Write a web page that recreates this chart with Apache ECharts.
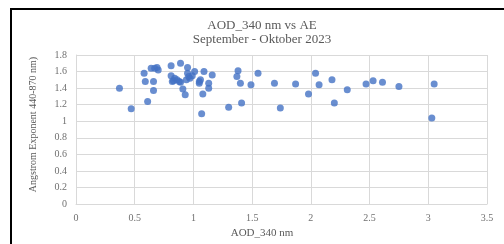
<!DOCTYPE html>
<html>
<head>
<meta charset="utf-8">
<script src="https://cdn.jsdelivr.net/npm/echarts@6/dist/echarts.min.js"></script>
<style>
  html, body { margin: 0; padding: 0; background: #fff; overflow: hidden; }
  #frame { position: absolute; left: 10px; top: 8px; width: 600px; height: 400px; border: 2px solid #000; }
  #chart { position: absolute; left: 0; top: 0; width: 504px; height: 244px; }
</style>
</head>
<body>
<div id="frame"></div>
<div id="chart"></div>
<script>
// AOD 340 nm (x) and Angstrom exponent (y)
const aodValues = [0.37, 0.47, 0.58, 0.59, 0.61, 0.64, 0.66, 0.66, 0.67, 0.69, 0.70,
    0.81, 0.81, 0.82, 0.84, 0.86, 0.89, 0.89, 0.91, 0.93, 0.95, 0.94, 0.95, 0.97, 0.99, 1.01,
    1.05, 1.05, 1.06, 1.08, 1.07, 1.09, 1.13, 1.13, 1.16, 1.30, 1.38, 1.37, 1.40, 1.41,
    1.49, 1.55, 1.69, 1.74, 1.87, 1.98, 2.04, 2.07, 2.18, 2.20, 2.31, 2.47, 2.53, 2.61,
    2.75, 3.03, 3.05, 0.83, 0.88, 0.96]
const aeValues = [1.40, 1.15, 1.58, 1.48, 1.24, 1.64, 1.48, 1.37, 1.64, 1.65, 1.62,
    1.67, 1.55, 1.48, 1.52, 1.50, 1.70, 1.47, 1.39, 1.32, 1.65, 1.50, 1.58, 1.52, 1.55, 1.60,
    1.48, 1.46, 1.50, 1.33, 1.09, 1.60, 1.46, 1.40, 1.56, 1.17, 1.61, 1.54, 1.46, 1.22,
    1.44, 1.58, 1.46, 1.16, 1.45, 1.33, 1.58, 1.44, 1.50, 1.22, 1.38, 1.45, 1.49, 1.47,
    1.42, 1.04, 1.45, 1.49, 1.48, 1.54]

const serif = 'Liberation Serif'
const textGray = '#595959'

let points = []
for (let i = 0; i < aodValues.length; i++) {
    points.push([aodValues[i], aeValues[i]])
}

let myChart = echarts.init(document.getElementById('chart'))

let option = {
    animation: false,
    title: {
        text: 'AOD_340 nm vs AE\nSeptember - Oktober 2023',
        left: 262,
        textAlign: 'center',
        top: 19,
        padding: 0,
        textStyle: {
            fontFamily: serif,
            fontSize: 13,
            fontWeight: 'normal',
            color: textGray,
            lineHeight: 14
        }
    },
    grid: {
        left: 76,
        top: 55,
        width: 411,
        height: 153
    },
    xAxis: {
        type: 'value',
        min: 0,
        max: 3.5,
        interval: 0.5,
        name: 'AOD_340 nm',
        nameLocation: 'middle',
        nameGap: 15,
        nameTextStyle: {
            fontFamily: serif,
            fontSize: 11,
            color: textGray,
            padding: [0, 39, 0, 0]
        },
        axisLine: { show: true, lineStyle: { color: '#d9d9d9' } },
        axisTick: { show: false },
        axisLabel: {
            fontFamily: serif,
            fontSize: 10,
            color: '#707070',
            margin: 9
        },
        splitLine: { show: true, lineStyle: { color: '#d9d9d9' } }
    },
    yAxis: {
        type: 'value',
        min: 0,
        max: 1.8,
        interval: 0.2,
        name: 'Angstrom Exponent 440-870 nm)',
        nameLocation: 'middle',
        nameGap: 38,
        nameTextStyle: {
            fontFamily: serif,
            fontSize: 10,
            color: textGray,
            padding: [0, 0, 0, 10]
        },
        axisLine: { show: true, lineStyle: { color: '#d9d9d9' } },
        axisTick: { show: false },
        axisLabel: {
            fontFamily: serif,
            fontSize: 10,
            color: '#707070',
            margin: 9,
            formatter: function (v) {
                return String(Math.round(v * 10) / 10)
            }
        },
        splitLine: { show: true, lineStyle: { color: '#d9d9d9' } }
    },
    series: [
        {
            type: 'scatter',
            data: points,
            symbolSize: 7,
            itemStyle: { color: '#4472C4' }
        }
    ]
}

myChart.setOption(option)
</script>
</body>
</html>
